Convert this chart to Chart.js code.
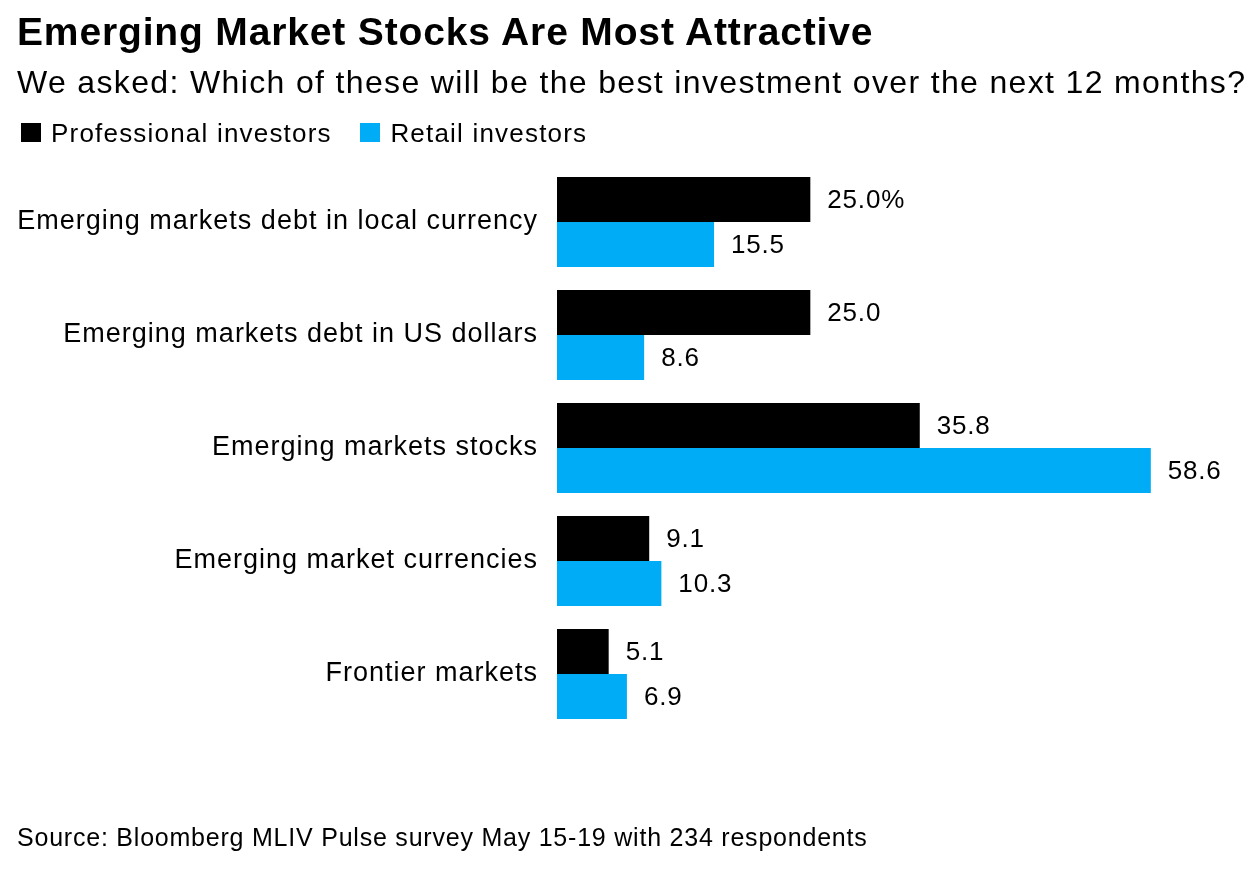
<!DOCTYPE html>
<html>
<head>
<meta charset="utf-8">
<script src="https://cdn.jsdelivr.net/npm/chart.js@4/dist/chart.umd.min.js"></script>
<style>
  html, body { margin: 0; padding: 0; background: #fff; }
  #wrap { position: relative; width: 1258px; height: 870px; overflow: hidden; font-family: "Liberation Sans", Arial, sans-serif; color: #000; }
  #wrap canvas { position: absolute; left: 0; top: 0; }
  .t { position: absolute; left: 17px; line-height: 1; white-space: nowrap; }
  #title { top: 12px; font-size: 39px; font-weight: bold; letter-spacing: 0.85px; }
  #subtitle { top: 66px; font-size: 32px; letter-spacing: 1.35px; }
  #legend { top: 120px; font-size: 26px; letter-spacing: 1.2px; }
  #legend .sw { position: absolute; top: 2.5px; width: 20px; height: 19px; }
  #legend .lb { position: absolute; top: 0; }
  #source { top: 825px; font-size: 25px; letter-spacing: 0.78px; }
</style>
</head>
<body>
<div id="wrap">
  <canvas id="c" width="1258" height="870"></canvas>
  <div class="t" id="title">Emerging Market Stocks Are Most Attractive</div>
  <div class="t" id="subtitle">We asked: Which of these will be the best investment over the next 12 months?</div>
  <div class="t" id="legend"></div>
  <div class="t" id="source">Source: Bloomberg MLIV Pulse survey May 15-19 with 234 respondents</div>
</div>
<script>
const categories = [
  "Emerging markets debt in local currency",
  "Emerging markets debt in US dollars",
  "Emerging markets stocks",
  "Emerging market currencies",
  "Frontier markets"
];
const seriesNames = ["Professional investors", "Retail investors"];
const professional = [25.0, 25.0, 35.8, 9.1, 5.1];
const retail = [15.5, 8.6, 58.6, 10.3, 6.9];
const seriesColors = ["#000000", "#00acf6"];

// HTML legend built from series names/colors
const legendEl = document.getElementById('legend');
const legendX = [[3.7, 34], [343, 373.4]];
seriesNames.forEach((name, i) => {
  const sw = document.createElement('div');
  sw.className = 'sw';
  sw.style.left = legendX[i][0] + 'px';
  sw.style.background = seriesColors[i];
  const lb = document.createElement('div');
  lb.className = 'lb';
  lb.style.left = legendX[i][1] + 'px';
  lb.textContent = name;
  legendEl.appendChild(sw);
  legendEl.appendChild(lb);
});

const FONT = '"Liberation Sans", Arial, sans-serif';

const valueLabels = {
  id: 'valueLabels',
  afterDatasetsDraw(chart) {
    const ctx = chart.ctx;
    ctx.save();
    ctx.font = '26px ' + FONT;
    ctx.letterSpacing = '0.8px';
    ctx.fillStyle = '#000';
    ctx.textAlign = 'left';
    ctx.textBaseline = 'middle';
    chart.data.datasets.forEach((ds, di) => {
      const meta = chart.getDatasetMeta(di);
      meta.data.forEach((el, i) => {
        let txt = ds.data[i].toFixed(1);
        if (di === 0 && i === 0) txt += '%';
        ctx.fillText(txt, el.x + 17, el.y + 1);
      });
    });
    ctx.restore();
  }
};

const spacing = {
  id: 'spacing',
  beforeDraw(chart) { chart.ctx.letterSpacing = '1px'; }
};

new Chart(document.getElementById('c'), {
  type: 'bar',
  data: {
    labels: categories,
    datasets: [
      { label: seriesNames[0], data: professional, backgroundColor: seriesColors[0], borderWidth: 0 },
      { label: seriesNames[1], data: retail, backgroundColor: seriesColors[1], borderWidth: 0 }
    ]
  },
  options: {
    indexAxis: 'y',
    responsive: false,
    animation: false,
    devicePixelRatio: 1,
    categoryPercentage: 90 / 113,
    barPercentage: 1,
    layout: { padding: { top: 165.5, bottom: 139.5, left: 0, right: 93 } },
    plugins: {
      legend: { display: false },
      title: { display: false },
      tooltip: { enabled: false }
    },
    scales: {
      x: {
        display: false,
        min: 0,
        max: 60
      },
      y: {
        afterFit(scale) { scale.width = 557; },
        grid: { display: false, drawTicks: false },
        border: { display: false },
        ticks: {
          color: '#000',
          padding: 19,
          font: { family: FONT, size: 27 }
        }
      }
    }
  },
  plugins: [spacing, valueLabels]
});
</script>
</body>
</html>
